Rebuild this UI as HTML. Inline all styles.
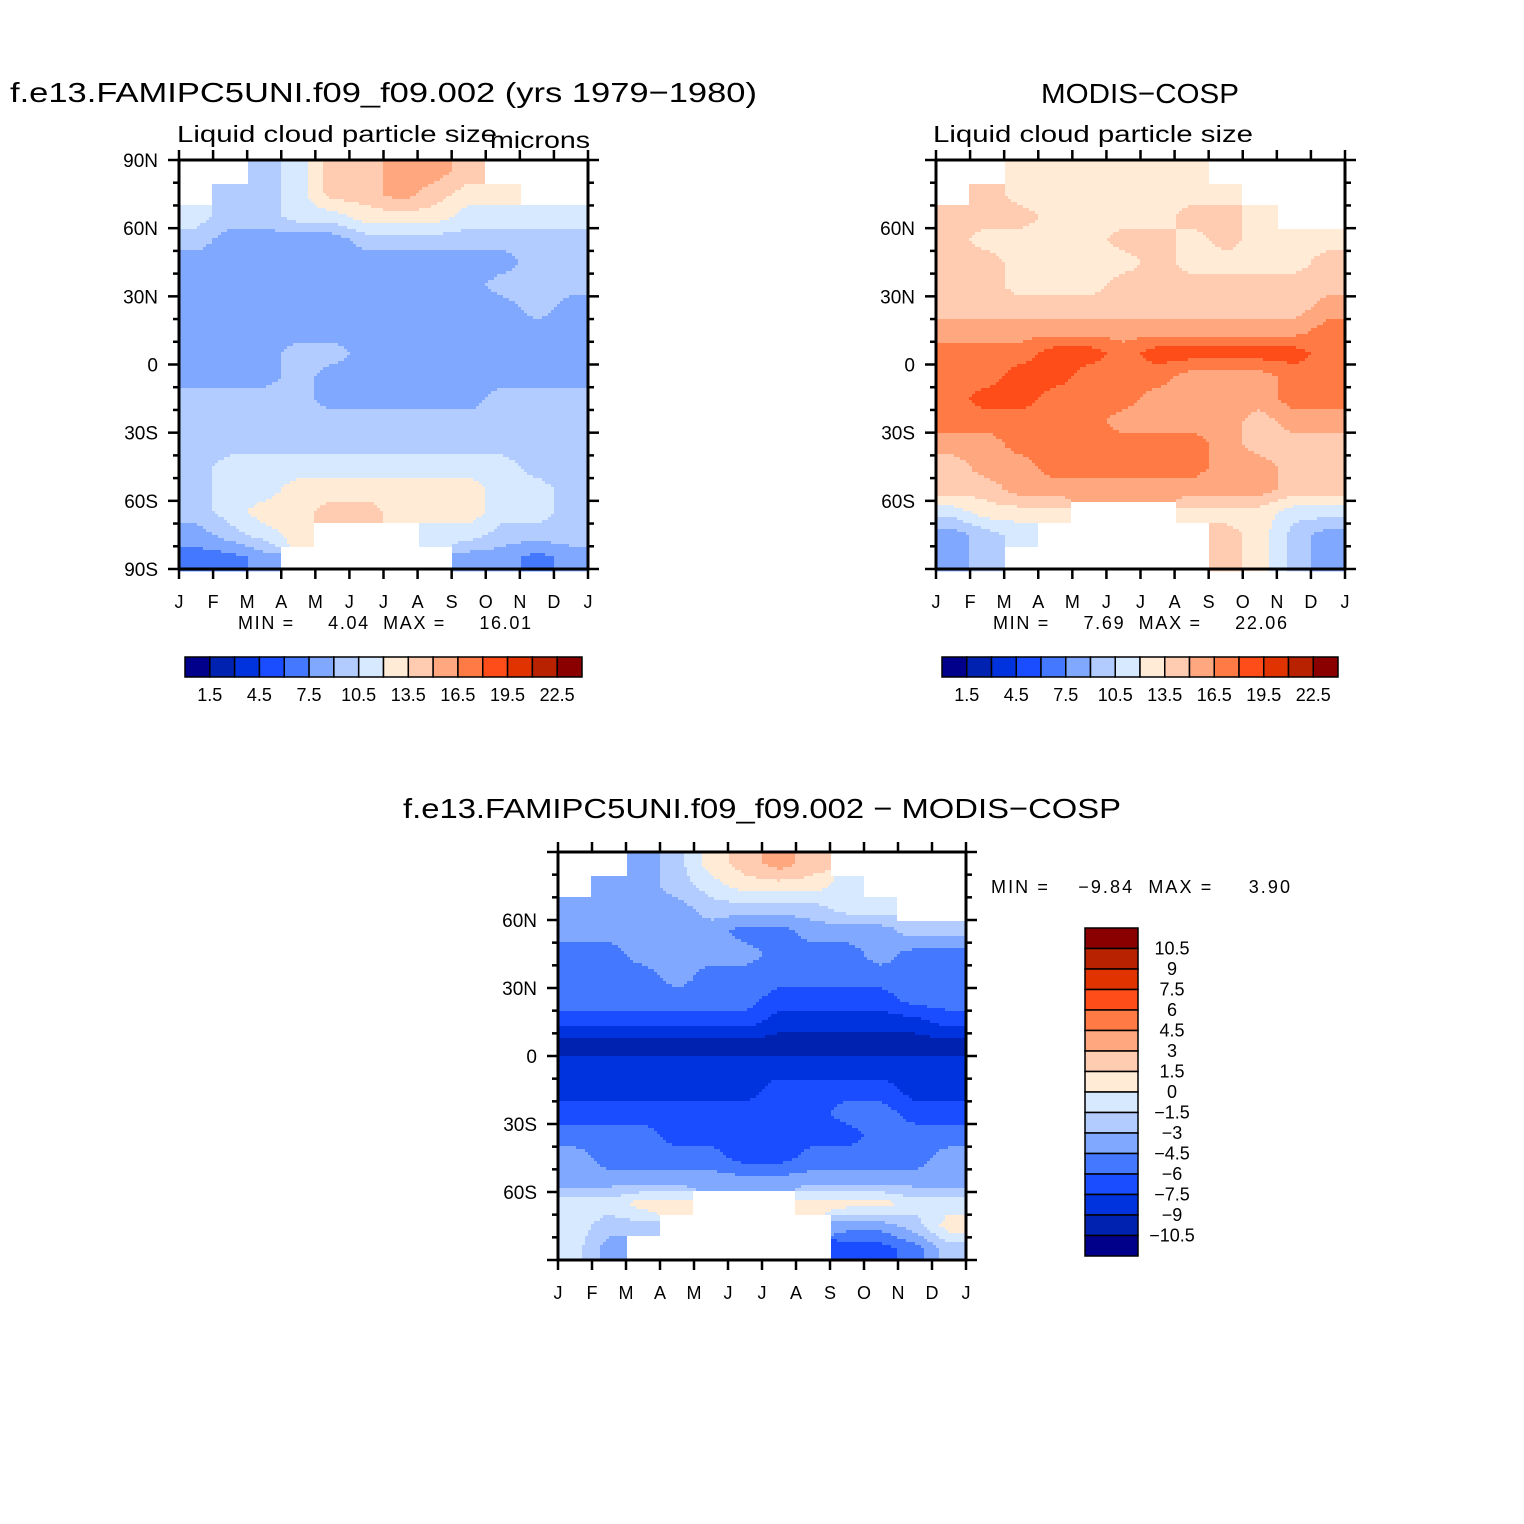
<!DOCTYPE html>
<html><head><meta charset="utf-8"><title>Liquid cloud particle size</title>
<style>html,body{margin:0;padding:0;background:#fff}svg{display:block}text{font-family:"Liberation Sans",sans-serif;fill:#000}</style></head>
<body>
<svg id="fig" width="1524" height="1524" viewBox="0 0 1524 1524" xmlns="http://www.w3.org/2000/svg">
<text x="10" y="102" font-size="28" textLength="747" lengthAdjust="spacingAndGlyphs">f.e13.FAMIPC5UNI.f09_f09.002 (yrs 1979−1980)</text>
<text x="177" y="142" font-size="23" textLength="320" lengthAdjust="spacingAndGlyphs">Liquid cloud particle size</text>
<text x="490" y="148" font-size="23" textLength="100" lengthAdjust="spacingAndGlyphs">microns</text>
<text x="1041" y="103" font-size="28" textLength="198" lengthAdjust="spacingAndGlyphs">MODIS−COSP</text>
<text x="933" y="142" font-size="23" textLength="320" lengthAdjust="spacingAndGlyphs">Liquid cloud particle size</text>
<text x="403" y="818" font-size="28" textLength="718" lengthAdjust="spacingAndGlyphs">f.e13.FAMIPC5UNI.f09_f09.002 − MODIS−COSP</text>
<text x="238" y="629" font-size="18" textLength="293" lengthAdjust="spacing" xml:space="preserve">MIN =     4.04  MAX =     16.01</text>
<text x="993" y="629" font-size="18" textLength="294" lengthAdjust="spacing" xml:space="preserve">MIN =     7.69  MAX =     22.06</text>
<text x="991" y="893" font-size="18" textLength="299" lengthAdjust="spacing" xml:space="preserve">MIN =    −9.84  MAX =     3.90</text>
</svg>
<script>
const NS="http://www.w3.org/2000/svg";
const months=["J","F","M","A","M","J","J","A","S","O","N","D","J"];
const colors=["#00008a","#0022b0","#0033dd","#1a4dff","#4479ff","#80a8ff","#b2ccff","#d6e9ff","#ffebd6","#ffccb2","#ffa880","#ff7a44","#ff4d1a","#e03300","#b82200","#8a0000"];
const absLevels=[1.5,3,4.5,6,7.5,9,10.5,12,13.5,15,16.5,18,19.5,21,22.5];
const absLabels=["1.5","4.5","7.5","10.5","13.5","16.5","19.5","22.5"];
const diffLevels=[-10.5,-9,-7.5,-6,-4.5,-3,-1.5,0,1.5,3,4.5,6,7.5,9,10.5];
const diffLabels=["−10.5","−9","−7.5","−6","−4.5","−3","−1.5","0","1.5","3","4.5","6","7.5","9","10.5"];
const n=null;
// rows: 90N->90S in 10 degree bands; columns Jan..Dec
const modelVals=[
[n,n,9.8,11.2,14.2,14.2,15.8,15.8,14.2,n,n,n],
[n,9.8,9.8,11.2,14.2,14.2,15.8,14.2,12.8,12.8,n,n],
[11.2,9.8,9.8,11.2,11.2,12.8,12.8,12.8,11.2,11.2,11.2,11.2],
[9.8,8.2,8.2,8.2,8.2,9.8,9.8,9.8,9.8,9.8,9.8,9.8],
[8.2,8.2,8.2,8.2,8.2,8.2,8.2,8.2,8.2,8.2,9.8,9.8],
[8.2,8.2,8.2,8.2,8.2,8.2,8.2,8.2,8.2,9.8,9.8,9.8],
[8.2,8.2,8.2,8.2,8.2,8.2,8.2,8.2,8.2,8.2,9.8,8.2],
[8.2,8.2,8.2,8.2,8.2,8.2,8.2,8.2,8.2,8.2,8.2,8.2],
[8.2,8.2,8.2,9.8,9.8,8.2,8.2,8.2,8.2,8.2,8.2,8.2],
[8.2,8.2,8.2,9.8,8.2,8.2,8.2,8.2,8.2,8.2,8.2,8.2],
[9.8,9.8,9.8,9.8,8.2,8.2,8.2,8.2,8.2,9.8,9.8,9.8],
[9.8,9.8,9.8,9.8,9.8,9.8,9.8,9.8,9.8,9.8,9.8,9.8],
[9.8,9.8,9.8,9.8,9.8,9.8,9.8,9.8,9.8,9.8,9.8,9.8],
[9.8,11.2,11.2,11.2,11.2,11.2,11.2,11.2,11.2,11.2,9.8,9.8],
[9.8,11.2,11.2,12.8,12.8,12.8,12.8,12.8,12.8,11.2,11.2,9.8],
[9.8,11.2,12.8,12.8,14.2,14.2,12.8,12.8,12.8,11.2,11.2,9.8],
[8.2,9.8,11.2,12.8,n,n,n,11.2,11.2,9.8,9.8,9.8],
[6.8,6.8,8.2,n,n,n,n,n,8.2,8.2,6.8,8.2]];
const obsVals=[
[n,n,12.8,12.8,12.8,12.8,12.8,12.8,n,n,n,n],
[n,14.2,12.8,12.8,12.8,12.8,12.8,12.8,12.8,n,n,n],
[14.2,14.2,14.2,12.8,12.8,12.8,12.8,14.2,14.2,12.8,n,n],
[14.2,12.8,12.8,12.8,12.8,14.2,14.2,12.8,14.2,12.8,12.8,12.8],
[14.2,14.2,12.8,12.8,12.8,12.8,14.2,12.8,12.8,12.8,12.8,14.2],
[14.2,14.2,12.8,12.8,12.8,14.2,14.2,14.2,14.2,14.2,14.2,14.2],
[14.2,14.2,14.2,14.2,14.2,14.2,14.2,14.2,14.2,14.2,14.2,15.8],
[15.8,15.8,15.8,15.8,15.8,15.8,15.8,15.8,15.8,15.8,15.8,17.2],
[17.2,17.2,17.2,18.8,18.8,17.2,18.8,18.8,18.8,18.8,18.8,17.2],
[17.2,17.2,18.8,18.8,17.2,17.2,17.2,15.8,15.8,15.8,17.2,17.2],
[17.2,18.8,18.8,17.2,17.2,17.2,15.8,15.8,15.8,15.8,17.2,17.2],
[17.2,17.2,17.2,17.2,17.2,15.8,15.8,15.8,15.8,14.2,15.8,15.8],
[15.8,15.8,17.2,17.2,17.2,17.2,17.2,17.2,15.8,14.2,14.2,14.2],
[14.2,15.8,15.8,17.2,17.2,17.2,17.2,17.2,15.8,15.8,14.2,14.2],
[14.2,14.2,15.8,15.8,15.8,15.8,15.8,15.8,15.8,15.8,14.2,14.2],
[11.2,12.8,12.8,12.8,n,n,n,12.8,12.8,12.8,11.2,11.2],
[8.2,9.8,11.2,n,n,n,n,n,14.2,12.8,9.8,8.2],
[8.2,9.8,n,n,n,n,n,n,14.2,12.8,9.8,8.2]];
const diffVals=[
[n,n,-3.8,-2.2,0.8,2.2,3.8,2.2,n,n,n,n],
[n,-3.8,-3.8,-2.2,-0.8,0.8,0.8,0.8,-0.8,n,n,n],
[-3.8,-3.8,-3.8,-3.8,-2.2,-2.2,-2.2,-2.2,-0.8,-0.8,n,n],
[-3.8,-3.8,-3.8,-3.8,-3.8,-5.2,-5.2,-3.8,-3.8,-3.8,-2.2,-2.2],
[-5.2,-5.2,-3.8,-3.8,-3.8,-3.8,-5.2,-5.2,-5.2,-3.8,-5.2,-5.2],
[-5.2,-5.2,-5.2,-3.8,-5.2,-5.2,-5.2,-5.2,-5.2,-5.2,-5.2,-5.2],
[-5.2,-5.2,-5.2,-5.2,-5.2,-5.2,-6.8,-6.8,-6.8,-6.8,-5.2,-5.2],
[-6.8,-6.8,-6.8,-6.8,-6.8,-6.8,-8.2,-8.2,-8.2,-8.2,-8.2,-6.8],
[-9.8,-9.8,-9.8,-9.8,-9.8,-9.8,-9.8,-9.8,-9.8,-9.8,-9.8,-9.8],
[-8.2,-8.2,-8.2,-8.2,-8.2,-8.2,-8.2,-8.2,-8.2,-8.2,-8.2,-8.2],
[-8.2,-8.2,-8.2,-8.2,-8.2,-8.2,-6.8,-6.8,-6.8,-6.8,-8.2,-8.2],
[-6.8,-6.8,-6.8,-6.8,-6.8,-6.8,-6.8,-6.8,-5.2,-5.2,-6.8,-6.8],
[-5.2,-5.2,-5.2,-6.8,-6.8,-6.8,-6.8,-6.8,-6.8,-5.2,-5.2,-5.2],
[-3.8,-5.2,-5.2,-5.2,-5.2,-6.8,-6.8,-5.2,-5.2,-5.2,-5.2,-3.8],
[-3.8,-3.8,-3.8,-3.8,-3.8,-3.8,-3.8,-3.8,-3.8,-3.8,-3.8,-3.8],
[-0.8,-0.8,0.8,0.8,n,n,n,0.8,0.8,0.8,-0.8,-0.8],
[-0.8,-2.2,-2.2,n,n,n,n,n,-3.8,-3.8,-2.2,0.8],
[-0.8,-3.8,n,n,n,n,n,n,-6.8,-6.8,-5.2,-2.2]];
const svg=document.getElementById('fig');
function el(tag,attrs,parent){const e=document.createElementNS(NS,tag);for(const k in attrs)e.setAttribute(k,attrs[k]);(parent||svg).appendChild(e);return e;}
function colorIdx(v,levels){let i=0;while(i<levels.length&&v>=levels[i])i++;return i;}
function panel(name,data,levels,x0,y0,w,h,latLabels){
  const g=el('g',{});
  
  
  const rows=data.length,cols=data[0].length;
  const step=3;
  const get=(r,c,def)=>{if(r<0)r=0;if(r>=rows)r=rows-1;if(c<0)c=0;if(c>=cols)c=cols-1;const v=data[r][c];return v==null?def:v;};
  for(let py=0;py<h;py+=step){
    const vv=(py+step/2)/h*rows; const r=Math.min(rows-1,Math.floor(vv));
    let runStart=0,runCol=null;
    const flush=(endPx)=>{if(runCol!=null&&endPx>runStart){const rc=el('rect',{x:(x0+runStart).toFixed(1),y:(y0+py).toFixed(1),width:(endPx-runStart+0.4).toFixed(1),height:step+0.4,fill:runCol},g);}};
    for(let px=0;px<w;px+=step){
      const uu=(px+step/2)/w*cols; const c=Math.min(cols-1,Math.floor(uu));
      const own=data[r][c]; let col;
      if(own==null){col='#ffffff';}
      else{
        const fu=uu-0.5,fv=vv-0.5; const c0=Math.floor(fu),r0=Math.floor(fv); const tu=fu-c0,tv=fv-r0;
        const a=get(r0,c0,own),b=get(r0,c0+1,own),cc=get(r0+1,c0,own),d=get(r0+1,c0+1,own);
        const val=(a*(1-tu)+b*tu)*(1-tv)+(cc*(1-tu)+d*tu)*tv;
        col=colors[colorIdx(val,levels)];
      }
      if(col!==runCol){flush(px);runStart=px;runCol=col;}
    }
    flush(w);
  }
  const fr=el('rect',{x:x0,y:y0,width:w,height:h,fill:'none',stroke:'#000','stroke-width':3});
  
  for(let i=0;i<=12;i++){
    const x=x0+i*w/12;
    el('line',{x1:x,y1:y0,x2:x,y2:y0-10,stroke:'#000','stroke-width':2.5});
    el('line',{x1:x,y1:y0+h,x2:x,y2:y0+h+10,stroke:'#000','stroke-width':2.5});
    const t=el('text',{x:x,y:y0+h+39,'font-size':18,'text-anchor':'middle'});
    
    t.textContent=months[i];
  }
  for(let k=0;k<=18;k++){
    const y=y0+k*h/18, major=k%3===0, L=major?11:6;
    el('line',{x1:x0,y1:y,x2:x0-L,y2:y,stroke:'#000','stroke-width':2.5});
    el('line',{x1:x0+w,y1:y,x2:x0+w+L,y2:y,stroke:'#000','stroke-width':2.5});
    if(major&&latLabels[k/3]){
      const t=el('text',{x:x0-21,y:y+7,'font-size':19,'text-anchor':'end'});
      
      t.textContent=latLabels[k/3];
    }
  }
}
panel('model',modelVals,absLevels,179,160,409,409,["90N","60N","30N","0","30S","60S","90S"]);
panel('obs',obsVals,absLevels,936,160,409,409,["","60N","30N","0","30S","60S",""]);
panel('diff',diffVals,diffLevels,558,852,408,408,["","60N","30N","0","30S","60S",""]);
function hbar(name,x0,y0,w,h){
  const bw=w/16;
  for(let i=0;i<16;i++){
    const r=el('rect',{x:x0+i*bw,y:y0,width:bw,height:h,fill:colors[i],stroke:'#000','stroke-width':1.5});
    
  }
  for(let j=0;j<absLabels.length;j++){
    const t=el('text',{x:x0+(1+2*j)*bw,y:y0+h+24,'font-size':18,'text-anchor':'middle'});
    
    t.textContent=absLabels[j];
  }
}
hbar('model',185,657,397,20);
hbar('obs',942,657,396,20);
const vx=1085,vy=928,vw=53,vh=328,bh=vh/16;
for(let i=0;i<16;i++){
  const r=el('rect',{x:vx,y:vy+i*bh,width:vw,height:bh,fill:colors[15-i],stroke:'#000','stroke-width':1.5});
  
}
for(let j=0;j<diffLabels.length;j++){
  const t=el('text',{x:1172,y:vy+(15-j)*bh+6,'font-size':18,'text-anchor':'middle'});
  
  t.textContent=diffLabels[j];
}
</script>
</body></html>
